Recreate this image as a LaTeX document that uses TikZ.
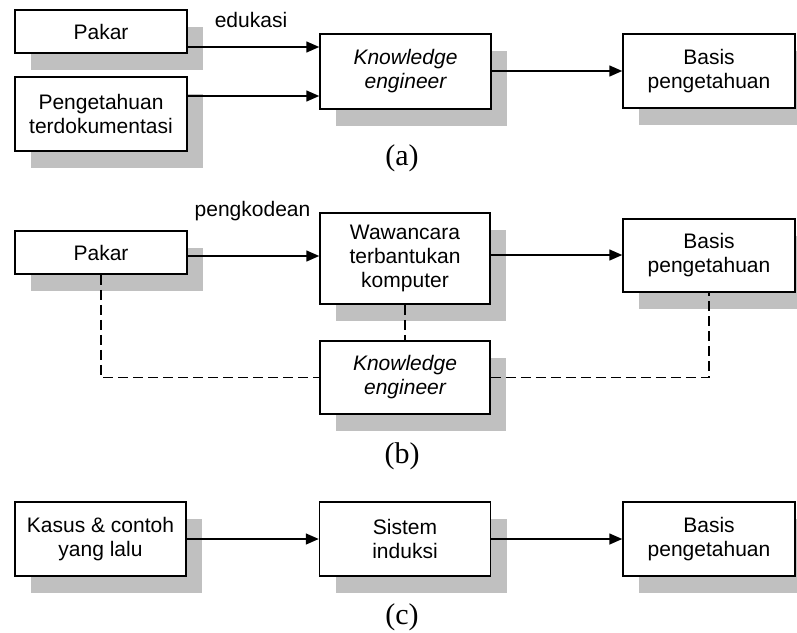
\documentclass[tikz,border=0pt]{standalone}
\usepackage{fontspec}
\setmainfont{Liberation Sans}
\newfontfamily\capfont{Liberation Serif}
\usetikzlibrary{arrows.meta,shadows}
\definecolor{shadowgray}{HTML}{C0C0C0}

\tikzset{
  box/.style={draw=black, line width=1.5pt, fill=white, inner sep=0pt,
    align=center, font=\fontsize{21}{24}\selectfont,
    drop shadow={shadow xshift=16pt, shadow yshift=-17pt, opacity=1, fill=shadowgray}},
  conn/.style={line width=1.5pt, -{Triangle[length=13pt,width=11pt]}},
  link/.style={line width=1.5pt, dash pattern=on 10pt off 5pt},
  lbl/.style={font=\fontsize{21}{24}\selectfont, inner sep=0pt},
  caption/.style={font=\capfont\fontsize{30}{34}\selectfont, inner sep=0pt},
}

\begin{document}
\begin{tikzpicture}[x=1pt,y=-1pt]
\useasboundingbox (0,0) rectangle (797,632);

% ---- (a) ----
\node[box, minimum width=172pt, minimum height=43pt] (pakA) at (101,31.5) {Pakar};
\node[box, minimum width=172pt, minimum height=74pt] (dokA) at (101,114) {Pengetahuan\\terdokumentasi};
\node[box, minimum width=171pt, minimum height=75pt] (keA) at (405.5,71.5) {\itshape Knowledge\\\itshape engineer};
\node[box, minimum width=172pt, minimum height=74pt] (basA) at (709,71) {Basis\\pengetahuan};
\node[lbl] (eduA) at (251,20) {edukasi};
\node[caption] (capA) at (402,158) {(a)};

\draw[conn] ([yshift=-15.5pt]pakA.east) -- ([yshift=-15.5pt]pakA.east -| keA.west);
\draw[conn] ([yshift=18pt]dokA.east) -- ([yshift=18pt]dokA.east -| keA.west);
\draw[conn] ([yshift=0.5pt]keA.east) -- ([yshift=0.5pt]keA.east -| basA.west);

% ---- (b) ----
\node[box, minimum width=172pt, minimum height=43pt] (pakB) at (101,252.5) {Pakar};
\node[box, minimum width=170pt, minimum height=91pt] (wawB) at (405,258.5) {Wawancara\\terbantukan\\komputer};
\node[box, minimum width=172pt, minimum height=73pt] (basB) at (709,255.5) {Basis\\pengetahuan};
\node[box, minimum width=170pt, minimum height=73pt] (keB) at (405,377.5) {\itshape Knowledge\\\itshape engineer};
\node[lbl] (kodB) at (252.5,211) {pengkodean};
\node[caption] (capB) at (402,456) {(b)};

\draw[conn] ([yshift=-3.5pt]pakB.east) -- ([yshift=-3.5pt]pakB.east -| wawB.west);
\draw[conn] ([yshift=3.5pt]wawB.east) -- ([yshift=3.5pt]wawB.east -| basB.west);
\draw[link] (pakB.south) |- (keB.west);
\draw[link] (keB.east) -| (basB.south);
\draw[link] (wawB.south) -- (keB.north);

% ---- (c) ----
\node[box, minimum width=171pt, minimum height=74pt] (kasC) at (100.5,539) {Kasus \& contoh\\yang lalu};
\node[box, minimum width=171pt, minimum height=74pt] (sisC) at (405,539) {Sistem\\induksi};
\node[box, minimum width=172pt, minimum height=74pt] (basC) at (709,539) {Basis\\pengetahuan};
\node[caption] (capC) at (402,617) {(c)};

\draw[conn] (kasC.east) -- (kasC.east -| sisC.west);
\draw[conn] (sisC.east) -- (sisC.east -| basC.west);
\end{tikzpicture}
\end{document}
